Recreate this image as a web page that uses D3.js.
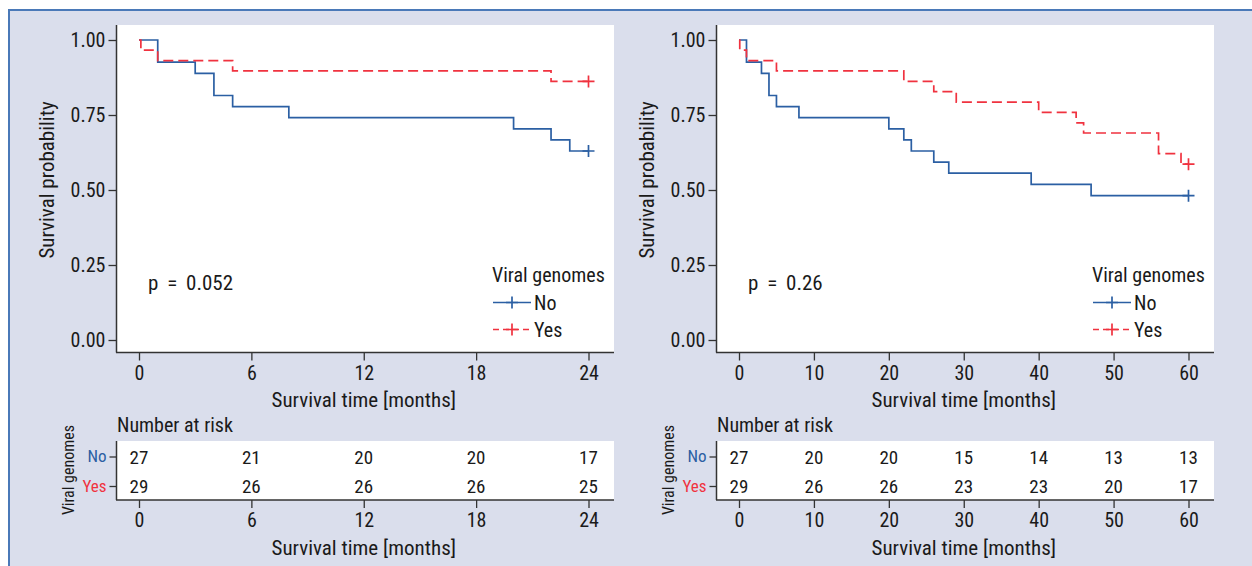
<!DOCTYPE html>
<html><head><meta charset="utf-8">
<script src="https://cdn.jsdelivr.net/npm/d3@7/dist/d3.min.js"></script>
<style>
html,body{margin:0;padding:0;background:#fff;}
svg text{font-family:"Liberation Sans Narrow","Arial Narrow","Roboto Condensed",sans-serif;}
</style></head>
<body><svg id="c" width="1252" height="566"></svg>
<script>
// ---------- data ----------
const yTicks = [0, 0.25, 0.5, 0.75, 1];
const groups = ["No", "Yes"];
const legendTitle = "Viral genomes";

const p1XTicks = [0, 6, 12, 18, 24];
const p1NoTimes = [1, 3, 4, 5, 8, 20, 22, 23];
const p1NoSurv  = [0.926, 0.889, 0.815, 0.778, 0.741, 0.704, 0.667, 0.630];
const p1YesTimes = [0.1, 1, 5, 22];
const p1YesSurv  = [0.966, 0.931, 0.897, 0.862];
const p1RiskNo  = [27, 21, 20, 20, 17];
const p1RiskYes = [29, 26, 26, 26, 25];
const p1PValue = "p = 0.052";

const p2XTicks = [0, 10, 20, 30, 40, 50, 60];
const p2NoTimes = [1, 3, 4, 5, 8, 20, 22, 23, 26, 28, 39, 47];
const p2NoSurv  = [0.926, 0.889, 0.815, 0.778, 0.741, 0.704, 0.667, 0.630, 0.593, 0.556, 0.519, 0.481];
const p2YesTimes = [0.1, 1, 5, 22, 26, 29, 40, 45, 46, 56, 59];
const p2YesSurv  = [0.966, 0.931, 0.897, 0.862, 0.828, 0.793, 0.759, 0.724, 0.690, 0.621, 0.586];
const p2RiskNo  = [27, 20, 20, 15, 14, 13, 13];
const p2RiskYes = [29, 26, 26, 23, 23, 20, 17];
const p2PValue = "p = 0.26";

// ---------- style ----------
const BLUE = "#2b5fa3", RED = "#f0323f", BG = "#dadeec", AX = "#333", TXT = "#1a1a1a";
const svg = d3.select("#c");

svg.append("rect").attr("x", 9).attr("y", 10).attr("width", 1260).attr("height", 600)
  .attr("fill", BG).attr("stroke", "#4a79b8").attr("stroke-width", 2);

function styleAxis(g, fs) {
  g.select(".domain").remove();
  g.selectAll(".tick line").attr("stroke", AX).attr("stroke-width", 1.3);
  g.selectAll(".tick text").attr("font-size", fs || 20).style("fill", TXT);
}
function txt(g) { return g.append("text").style("fill", TXT); }

function panel(o) {
  const left = o.left, right = o.left + 497, top = 25, bottom = 352.5;
  const x = d3.scaleLinear().domain([0, o.xTicks[o.xTicks.length - 1]]).range([left + 22, right - 25.5]);
  const y = d3.scaleLinear().domain([0, 1]).range([340, 40]);
  const g = svg.append("g");
  g.append("rect").attr("x", left).attr("y", top).attr("width", right - left).attr("height", bottom - top).attr("fill", "#fff");

  // axes
  const ya = g.append("g").attr("transform", `translate(${left - 0.5},0)`)
    .call(d3.axisLeft(y).tickValues(yTicks).tickFormat(d3.format(".2f")).tickSize(8).tickPadding(3));
  styleAxis(ya);
  const xa = g.append("g").attr("transform", `translate(0,${bottom})`)
    .call(d3.axisBottom(x).tickValues(o.xTicks).tickFormat(d3.format("d")).tickSize(8).tickPadding(5));
  styleAxis(xa);
  g.append("line").attr("x1", left - 0.5).attr("x2", left - 0.5).attr("y1", top).attr("y2", bottom).attr("stroke", AX).attr("stroke-width", 1.5);
  g.append("line").attr("x1", left - 1).attr("x2", right).attr("y1", bottom).attr("y2", bottom).attr("stroke", AX).attr("stroke-width", 1.5);

  // curves
  const tmax = o.xTicks[o.xTicks.length - 1];
  const line = d3.line().x(d => x(d[0])).y(d => y(d[1])).curve(d3.curveStepAfter);
  const series = [
    {times: o.noT, surv: o.noS, color: BLUE, dash: null},
    {times: o.yesT, surv: o.yesS, color: RED, dash: "10,5"}
  ];
  series.forEach(s => {
    const pts = [[0, 1]].concat(s.times.map((t, i) => [t, s.surv[i]]));
    pts.push([tmax, s.surv[s.surv.length - 1]]);
    g.append("path").attr("d", line(pts)).attr("fill", "none").attr("stroke", s.color)
      .attr("stroke-width", 1.7).attr("stroke-dasharray", s.dash);
    const cx = x(tmax), cy = y(s.surv[s.surv.length - 1]);
    g.append("path").attr("d", `M${cx - 6},${cy}H${cx + 6}M${cx},${cy - 6}V${cy + 6}`)
      .attr("stroke", s.color).attr("stroke-width", 1.7);
  });

  // p value
  txt(g).attr("x", x(0) + 9).attr("y", 290).attr("font-size", 21).attr("word-spacing", 4).text(o.p);

  // legend
  txt(g).attr("x", right - 122).attr("y", 282).attr("font-size", 20).text(legendTitle);
  series.forEach((s, i) => {
    const ly = 302.5 + i * 27;
    g.append("line").attr("x1", right - 121).attr("x2", right - 83).attr("y1", ly).attr("y2", ly)
      .attr("stroke", s.color).attr("stroke-width", 1.7).attr("stroke-dasharray", s.dash ? "6,4" : null);
    const mx = right - 102;
    g.append("path").attr("d", `M${mx - 6},${ly}H${mx + 6}M${mx},${ly - 6}V${ly + 6}`).attr("stroke", s.color).attr("stroke-width", 1.7);
    txt(g).attr("x", right - 80).attr("y", ly + 7).attr("font-size", 20).text(groups[i]);
  });

  // labels
  txt(g).attr("transform", `translate(${left - 63},${180}) rotate(-90)`)
    .attr("text-anchor", "middle").attr("font-size", 21).text("Survival probability");
  txt(g).attr("x", (x(0) + x(tmax)) / 2).attr("y", 407).attr("text-anchor", "middle").attr("font-size", 21).text("Survival time [months]");

  // risk table
  const rt = 441, rb = 500;
  const ry = d3.scalePoint().domain(groups).range([456.5, 486]);
  txt(g).attr("x", left).attr("y", 432).attr("font-size", 20).text("Number at risk");
  g.append("rect").attr("x", left).attr("y", rt).attr("width", right - left).attr("height", rb - rt).attr("fill", "#fff");
  const rya = g.append("g").attr("transform", `translate(${left - 0.5},0)`)
    .call(d3.axisLeft(ry).tickSize(7).tickPadding(3));
  styleAxis(rya, 17);
  rya.selectAll(".tick text").style("fill", d => d === "No" ? BLUE : RED);
  const rxa = g.append("g").attr("transform", `translate(0,${rb})`)
    .call(d3.axisBottom(x).tickValues(o.xTicks).tickFormat(d3.format("d")).tickSize(8).tickPadding(5));
  styleAxis(rxa);
  g.append("line").attr("x1", left - 0.5).attr("x2", left - 0.5).attr("y1", rt).attr("y2", rb).attr("stroke", AX).attr("stroke-width", 1.5);
  g.append("line").attr("x1", left - 1).attr("x2", right).attr("y1", rb).attr("y2", rb).attr("stroke", AX).attr("stroke-width", 1.5);
  [o.riskNo, o.riskYes].forEach((arr, i) => {
    g.selectAll(null).data(arr).enter().append("text").style("fill", TXT)
      .attr("x", (d, j) => x(o.xTicks[j])).attr("y", ry(groups[i]) + 7)
      .attr("text-anchor", "middle").attr("font-size", 19).text(d => d);
  });
  txt(g).attr("transform", `translate(${left - 43},${470}) rotate(-90)`)
    .attr("text-anchor", "middle").attr("font-size", 16).text(legendTitle);
  txt(g).attr("x", (x(0) + x(tmax)) / 2).attr("y", 555).attr("text-anchor", "middle").attr("font-size", 21).text("Survival time [months]");
}

panel({left: 117, xTicks: p1XTicks, noT: p1NoTimes, noS: p1NoSurv, yesT: p1YesTimes, yesS: p1YesSurv,
  riskNo: p1RiskNo, riskYes: p1RiskYes, p: p1PValue});
panel({left: 717, xTicks: p2XTicks, noT: p2NoTimes, noS: p2NoSurv, yesT: p2YesTimes, yesS: p2YesSurv,
  riskNo: p2RiskNo, riskYes: p2RiskYes, p: p2PValue});
</script></body></html>
